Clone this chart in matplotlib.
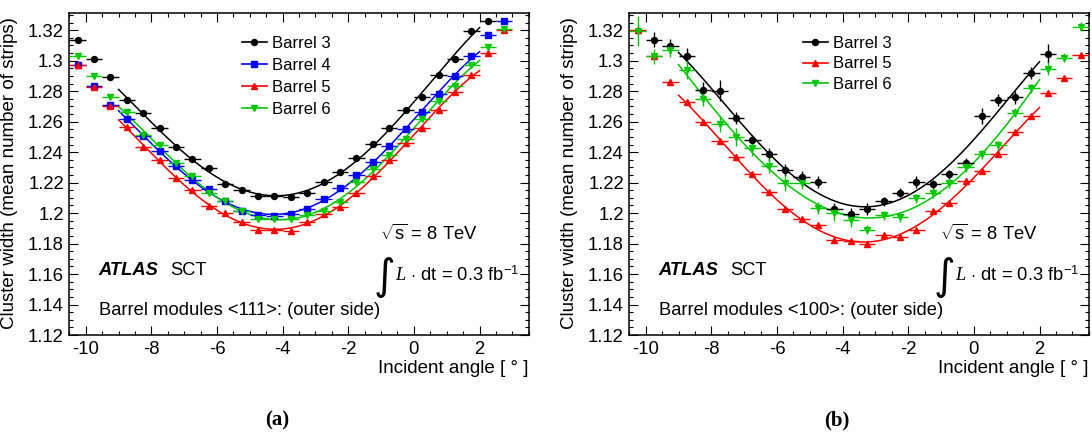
import numpy as np
import matplotlib
matplotlib.use('Agg')
import matplotlib.pyplot as plt
from matplotlib.ticker import MultipleLocator
from matplotlib.lines import Line2D

plt.rcParams['font.family'] = ['Liberation Sans', 'DejaVu Sans']
plt.rcParams['axes.unicode_minus'] = False
plt.rcParams['mathtext.fontset'] = 'custom'
plt.rcParams['mathtext.rm'] = 'Liberation Sans'
plt.rcParams['mathtext.it'] = 'Liberation Serif:italic'

# ---- data: panel (a), <111> modules ----
angle_a3 = [-10.25, -9.75, -9.25, -8.75, -8.25, -7.75, -7.25, -6.75, -6.25, -5.75, -5.25, -4.75, -4.25,
            -3.75, -3.25, -2.75, -2.25, -1.75, -1.25, -0.75, -0.25, 0.25, 0.75, 1.25, 1.75, 2.25]
angle_a = [-10.25, -9.75, -9.25, -8.75, -8.25, -7.75, -7.25, -6.75, -6.25, -5.75, -5.25, -4.75, -4.25,
           -3.75, -3.25, -2.75, -2.25, -1.75, -1.25, -0.75, -0.25, 0.25, 0.75, 1.25, 1.75, 2.25, 2.75]
width_a_b3 = [1.3134, 1.3012, 1.2890, 1.2743, 1.2658, 1.2559, 1.2433, 1.2354, 1.2297, 1.2188, 1.2149, 1.2115, 1.2113,
              1.2104, 1.2134, 1.2207, 1.2273, 1.2362, 1.2452, 1.2559, 1.2677, 1.2765, 1.2907, 1.3014, 1.3195, 1.3261]
width_a_b4 = [1.2975, 1.2833, 1.2710, 1.2616, 1.2505, 1.2408, 1.2310, 1.2214, 1.2155, 1.2078, 1.2015, 1.1989, 1.1978,
              1.1996, 1.2024, 1.2095, 1.2162, 1.2251, 1.2336, 1.2441, 1.2555, 1.2664, 1.2780, 1.2900, 1.3029, 1.3169, 1.3261]
width_a_b5 = [1.2970, 1.2830, 1.2700, 1.2562, 1.2433, 1.2349, 1.2231, 1.2149, 1.2048, 1.2000, 1.1939, 1.1891, 1.1891,
              1.1885, 1.1939, 1.1993, 1.2043, 1.2134, 1.2242, 1.2347, 1.2463, 1.2559, 1.2675, 1.2795, 1.2905, 1.3054, 1.3200]
width_a_b6 = [1.3029, 1.2903, 1.2765, 1.2662, 1.2511, 1.2444, 1.2332, 1.2244, 1.2135, 1.2078, 1.2011, 1.1961, 1.1961,
              1.1961, 1.1989, 1.2017, 1.2070, 1.2203, 1.2290, 1.2382, 1.2489, 1.2618, 1.2736, 1.2837, 1.2970, 1.3090, 1.3211]

# ---- data: panel (b), <100> modules ----
angle_b3 = [-9.75, -9.25, -8.75, -8.25, -7.75, -7.25, -6.75, -6.25, -5.75, -5.25, -4.75, -4.25,
            -3.75, -3.25, -2.75, -2.25, -1.75, -1.25, -0.75, -0.25, 0.25, 0.75, 1.25, 1.75, 2.25]
angle_b = [-10.25, -9.75, -9.25, -8.75, -8.25, -7.75, -7.25, -6.75, -6.25, -5.75, -5.25, -4.75, -4.25,
           -3.75, -3.25, -2.75, -2.25, -1.75, -1.25, -0.75, -0.25, 0.25, 0.75, 1.25, 1.75, 2.25, 2.75, 3.25]
width_b_b3 = [1.3139, 1.3095, 1.3031, 1.2811, 1.2804, 1.2625, 1.2483, 1.2385, 1.2282, 1.2238, 1.2203, 1.2025,
              1.1995, 1.2026, 1.2078, 1.2133, 1.2205, 1.2190, 1.2254, 1.2332, 1.2638, 1.2741, 1.2759, 1.2922, 1.3047]
err_b_b3 = [0.005, 0.005, 0.005, 0.005, 0.007, 0.004, 0.003, 0.004, 0.004, 0.004, 0.004, 0.004,
            0.004, 0.004, 0.003, 0.003, 0.004, 0.003, 0.003, 0.003, 0.005, 0.004, 0.004, 0.004, 0.006]
width_b_b5 = [1.3200, 1.3029, 1.2863, 1.2730, 1.2596, 1.2472, 1.2371, 1.2257, 1.2139, 1.2025, 1.1960, 1.1920, 1.1824,
              1.1815, 1.1797, 1.1858, 1.1842, 1.1890, 1.2013, 1.2064, 1.2213, 1.2275, 1.2391, 1.2533, 1.2638, 1.2785,
              1.2887, 1.3036]
width_b_b6 = [1.3195, 1.3030, 1.3073, 1.2938, 1.2752, 1.2583, 1.2500, 1.2428, 1.2310, 1.2198, 1.2195, 1.2035, 1.2000,
              1.1957, 1.1892, 1.1987, 1.1972, 1.2097, 1.2132, 1.2196, 1.2303, 1.2387, 1.2446, 1.2658, 1.2818, 1.2949,
              1.3021, 1.3222]
err_b_b6 = [0.010, 0.005, 0.005, 0.006, 0.005, 0.005, 0.006, 0.005, 0.005, 0.005, 0.004, 0.004, 0.005,
            0.005, 0.003, 0.003, 0.003, 0.003, 0.003, 0.003, 0.003, 0.003, 0.003, 0.003, 0.003, 0.004, 0.003, 0.003]

GREEN = '#00c800'
fit_range = (-9.0, 2.0)


def draw_barrel(ax, x, y, yerr, color, marker, ms):
    ax.errorbar(x, y, xerr=0.25, yerr=yerr, fmt=marker, color=color, ms=ms,
                elinewidth=1.0, capsize=0, zorder=3)
    x = np.array(x)
    y = np.array(y)
    sel = (x >= fit_range[0]) & (x <= fit_range[1])
    coef = np.polyfit(x[sel], y[sel], 4)
    xs = np.linspace(fit_range[0], fit_range[1], 200)
    ax.plot(xs, np.polyval(coef, xs), color=color, lw=1.1, zorder=2)


def style_axes(ax):
    ax.set_xlim(-10.5, 3.5)
    ax.set_ylim(1.12, 1.331)
    ax.xaxis.set_major_locator(MultipleLocator(2))
    ax.xaxis.set_minor_locator(MultipleLocator(0.5))
    ax.yaxis.set_major_locator(MultipleLocator(0.02))
    ax.yaxis.set_minor_locator(MultipleLocator(0.005))
    ax.yaxis.set_major_formatter(plt.FuncFormatter(lambda v, p: ('%.2f' % v).rstrip('0').rstrip('.') if v else '0'))
    ax.tick_params(which='both', direction='in', top=True, right=True, labelsize=13.3, width=0.8)
    ax.tick_params(which='major', length=6.5, pad=4)
    ax.tick_params(which='minor', length=3.2)
    for s in ax.spines.values():
        s.set_linewidth(1.1)
    ax.set_ylabel('Cluster width (mean number of strips)', fontsize=13.5)
    ax.yaxis.set_label_coords(-0.112, 0.505)
    ax.set_xlabel('Incident angle [ ° ]', fontsize=13.5, ha='right', va='center')
    ax.xaxis.set_label_coords(1.0, -0.103)


def add_texts(ax, modules):
    ax.text(0.676, 0.316, r'$\sqrt{\mathrm{s}}$ = 8 TeV', transform=ax.transAxes, fontsize=13.2, va='center')
    ax.text(0.662, 0.18, '∫', transform=ax.transAxes, fontsize=30, family='DejaVu Sans', va='center')
    ax.text(0.708, 0.187, r'$L$ $\cdot$ dt = 0.3 fb$^{\mathrm{-1}}$', transform=ax.transAxes, fontsize=13.2, va='center')
    ax.text(0.064, 0.202, 'ATLAS', transform=ax.transAxes, fontsize=13.2, fontweight='bold', fontstyle='italic', va='center')
    ax.text(0.2205, 0.202, 'SCT', transform=ax.transAxes, fontsize=13.2, va='center')
    ax.text(0.064, 0.0756, 'Barrel modules ' + modules + ': (outer side)', transform=ax.transAxes, fontsize=13.2, va='center')


fig = plt.figure(figsize=(10.92, 4.34), dpi=100)
ax_a = fig.add_axes([0.0635, 0.2281, 0.4207, 0.7408])
ax_b = fig.add_axes([0.5763, 0.2281, 0.4207, 0.7408])

# panel (a)
draw_barrel(ax_a, angle_a3, width_a_b3, 0.0012, 'black', 'o', 4.3)
draw_barrel(ax_a, angle_a, width_a_b4, 0.0012, 'blue', 's', 4.3)
draw_barrel(ax_a, angle_a, width_a_b5, 0.0012, 'red', '^', 5)
draw_barrel(ax_a, angle_a, width_a_b6, 0.0012, GREEN, 'v', 5)
style_axes(ax_a)
add_texts(ax_a, '<111>')
handles_a = [Line2D([], [], color='black', marker='o', ms=4.3, lw=1.2),
             Line2D([], [], color='blue', marker='s', ms=4.3, lw=1.2),
             Line2D([], [], color='red', marker='^', ms=5, lw=1.2),
             Line2D([], [], color=GREEN, marker='v', ms=5, lw=1.2)]
ax_a.legend(handles_a, ['Barrel 3', 'Barrel 4', 'Barrel 5', 'Barrel 6'], loc='upper left',
            bbox_to_anchor=(0.375, 0.93), frameon=False, fontsize=12, handlelength=1.5,
            handletextpad=0.3, labelspacing=0.42, borderpad=0, borderaxespad=0)

# panel (b)
draw_barrel(ax_b, angle_b3, width_b_b3, err_b_b3, 'black', 'o', 4.3)
draw_barrel(ax_b, angle_b, width_b_b5, 0.0015, 'red', '^', 5)
draw_barrel(ax_b, angle_b, width_b_b6, err_b_b6, GREEN, 'v', 5)
style_axes(ax_b)
add_texts(ax_b, '<100>')
handles_b = [Line2D([], [], color='black', marker='o', ms=4.3, lw=1.2),
             Line2D([], [], color='red', marker='^', ms=5, lw=1.2),
             Line2D([], [], color=GREEN, marker='v', ms=5, lw=1.2)]
ax_b.legend(handles_b, ['Barrel 3', 'Barrel 5', 'Barrel 6'], loc='upper left',
            bbox_to_anchor=(0.377, 0.93), frameon=False, fontsize=12, handlelength=1.5,
            handletextpad=0.3, labelspacing=0.32, borderpad=0, borderaxespad=0)

fig.text(0.2534, 0.030, '(a)', family='Liberation Serif', fontweight='bold', fontsize=15, ha='center', va='center')
fig.text(0.7662, 0.030, '(b)', family='Liberation Serif', fontweight='bold', fontsize=15, ha='center', va='center')

fig.savefig('out.png', dpi=100)
